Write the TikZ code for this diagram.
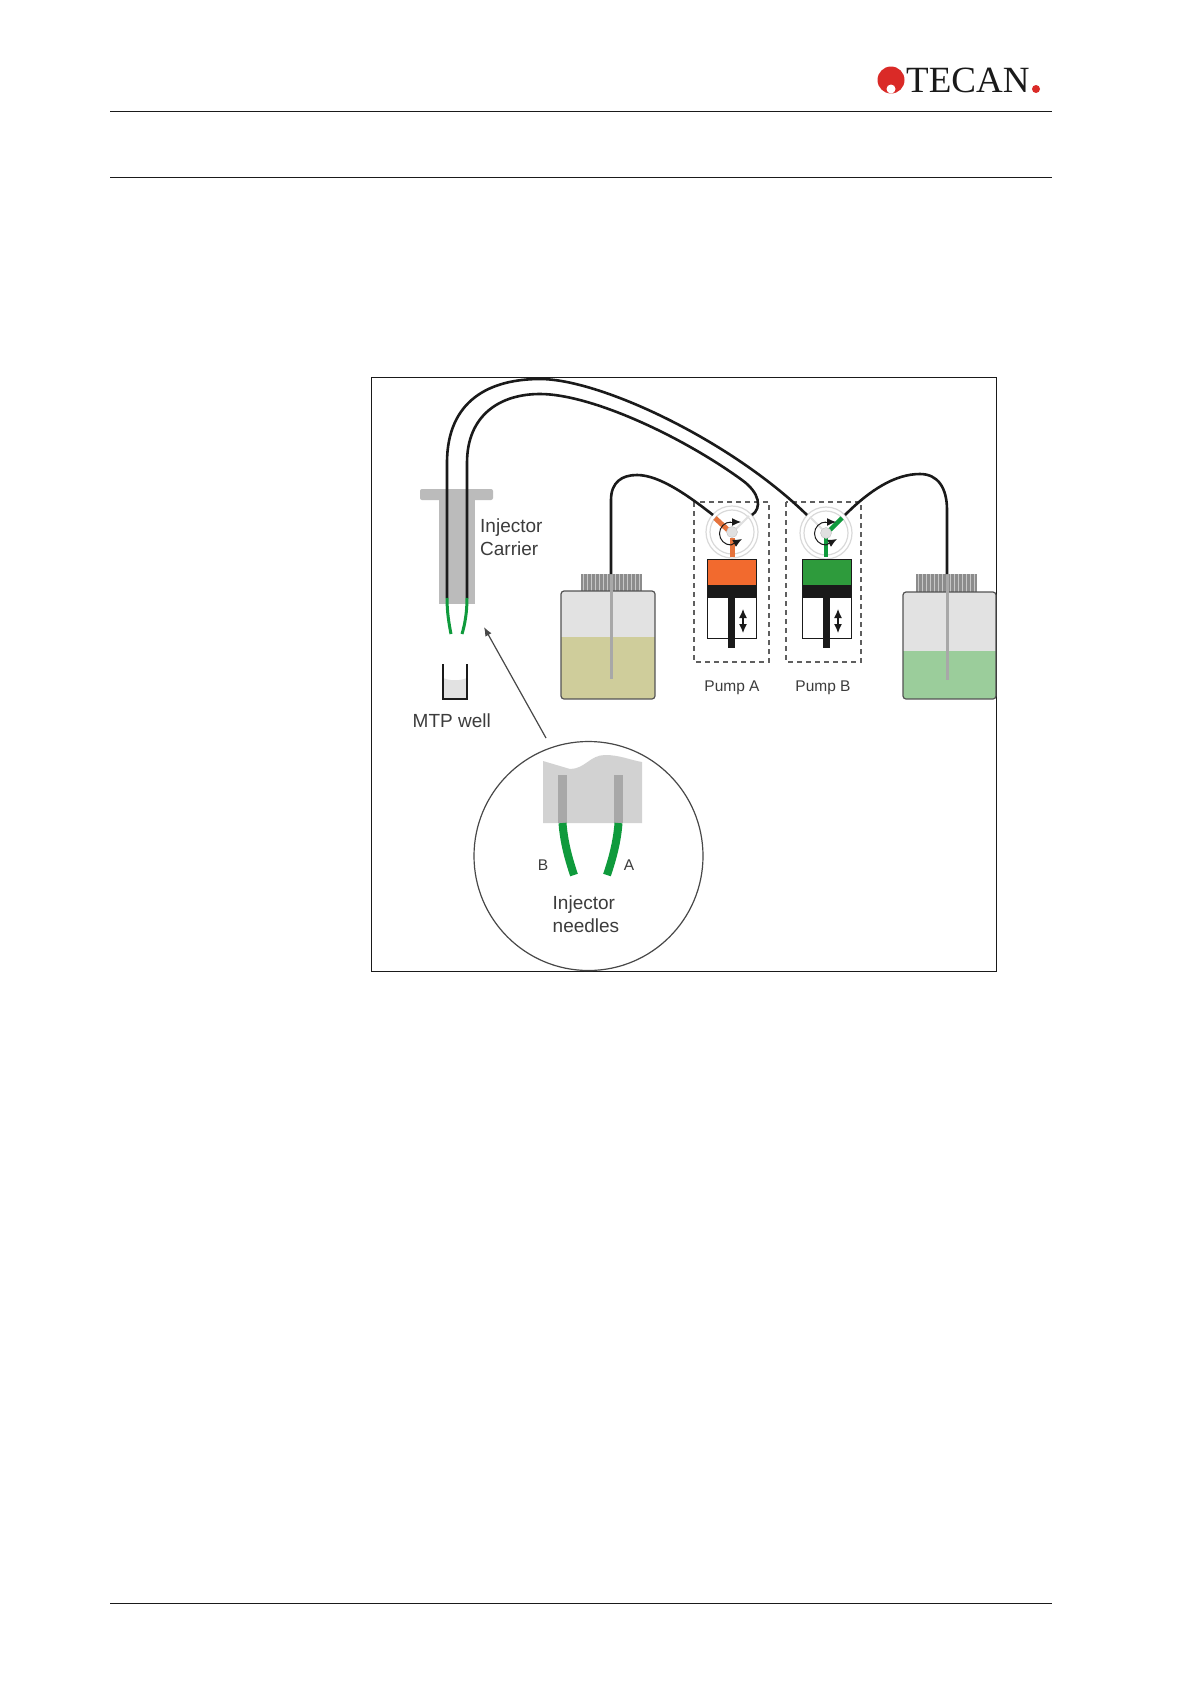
\documentclass[tikz,border=0pt]{standalone}
\usepackage{fontspec}
\setmainfont{Liberation Sans}
\newfontfamily\logofont{Liberation Serif}
\usepackage{xcolor}
\usepackage{tikz}
\usetikzlibrary{arrows.meta,calc,positioning}
\definecolor{ink}{HTML}{1A1A1A}
\definecolor{logored}{HTML}{DA2A27}
\definecolor{carriergrey}{HTML}{BBBBBB}
\definecolor{blockgrey}{HTML}{D2D2D2}
\definecolor{bargrey}{HTML}{A8A8A8}
\definecolor{airgrey}{HTML}{E2E2E2}
\definecolor{needlegreen}{HTML}{0F9A3C}
\definecolor{pumpgreen}{HTML}{2E9B3C}
\definecolor{pumporange}{HTML}{F26A2E}
\definecolor{spokeorange}{HTML}{E5733C}
\definecolor{liqa}{HTML}{CFCD9B}
\definecolor{liqb}{HTML}{9BCD9B}
\begin{document}
\begin{tikzpicture}[x=1pt,y=-1pt,
  rule/.style={draw=ink,line width=1pt},
  tube/.style={draw=ink,line width=2.6pt},
  lab/.style={font=\fontsize{19}{23}\selectfont,text=ink!85,inner sep=0pt,anchor=base west},
  smalllab/.style={font=\fontsize{15.5}{19}\selectfont,text=ink!85,inner sep=0pt,anchor=base},
  bottle/.style={draw=ink!75,line width=1.2pt,rounded corners=3pt},
  rod/.style={draw=bargrey,line width=3pt},
  cyl/.style={draw=ink,line width=1pt,fill=white},
  guard/.style={draw=ink!70,line width=1.2pt,dash pattern=on 5pt off 4pt},
  ringv/.style={circle,draw=black!15,line width=1.2pt,fill=white,minimum size=52pt,inner sep=0pt},
  hubv/.style={circle,draw=black!25,fill=black!12,minimum size=11pt,inner sep=0pt},
  mini/.style={{Latex[length=9pt,width=8pt]}-{Latex[length=9pt,width=8pt]},line width=1.2pt,ink},
  turn/.style={-{Latex[length=9pt,width=8pt]},line width=1pt,ink}
]
\useasboundingbox (0,0) rectangle (1190,1684);
\fill[white] (0,0) rectangle (1190,1684);
% page rules
\coordinate (r1a) at (110,111); \coordinate (r1b) at (1052,111);
\coordinate (r2a) at (110,177); \coordinate (r2b) at (1052,177);
\coordinate (r3a) at (110,1603); \coordinate (r3b) at (1052,1603);
\draw[rule] (r1a)--(r1b);
\draw[rule] (r2a)--(r2b);
\draw[rule] (r3a)--(r3b);
% logo
\fill[logored] (891,80) circle (13.5);
\fill[white] (891,89) circle (4.5);
\node[font=\logofont\fontsize{37}{37}\selectfont,text=ink,inner sep=0pt,anchor=base west] (logo) at (906,92) {TECAN};
\fill[logored] (1036,89) circle (4);
% frame
\draw[ink,line width=1pt] (371,377) rectangle (996,971);
% injector carrier
\fill[carriergrey] (439,500) rectangle (475,604);
\fill[carriergrey,rounded corners=2pt] (420,489) rectangle (493,500);
% bottles
\fill[black!45] (581,574) rectangle (642,591);
\foreach \x in {583,587,...,640}{\draw[black!22,line width=1pt] (\x,574)--(\x,591);}
\fill[black!45] (916,574) rectangle (977,592);
\foreach \x in {918,922,...,975}{\draw[black!22,line width=1pt] (\x,574)--(\x,592);}
\begin{scope}
\clip[rounded corners=3pt] (561,591) rectangle (655,699);
\fill[airgrey] (561,591) rectangle (655,637);
\fill[liqa] (561,637) rectangle (655,699);
\end{scope}
\draw[bottle] (561,591) rectangle (655,699);
\begin{scope}
\clip[rounded corners=3pt] (903,592) rectangle (996,699);
\fill[airgrey] (903,592) rectangle (996,651);
\fill[liqb] (903,651) rectangle (996,699);
\end{scope}
\draw[bottle] (903,592) rectangle (996,699);
\draw[rod] (611,574)--(611,679);
\draw[rod] (947,574)--(947,680);
% pump guards
\draw[guard] (694,502) rectangle (769,662);
\draw[guard] (786,502) rectangle (861,662);
% valves
\node[ringv] (valvea) at (732,532) {};
\node[circle,draw=black!15,line width=1.2pt,minimum size=44pt,inner sep=0pt] at (valvea) {};
\node[ringv] (valveb) at (826,533) {};
\node[circle,draw=black!15,line width=1.2pt,minimum size=44pt,inner sep=0pt] at (valveb) {};
% cylinders
\foreach \x/\colr in {707/pumporange,802/pumpgreen}{
  \draw[cyl] (\x,559) rectangle ++(49,79);
  \fill[\colr] (\x,559) rectangle ++(49,26);
  \draw[ink,line width=.6pt] (\x,559) rectangle ++(49,26);
  \fill[ink] (\x,585) rectangle ++(49,13);
  \fill[ink] (\x+21,598) rectangle ++(7,50);
  \draw[mini] (\x+36,609)--(\x+36,633);
}
% valve spokes
\draw[draw=spokeorange,line width=5pt] (715,518)--(728,530);
\draw[draw=spokeorange,line width=5pt] (732,538)--(732,557);
\draw[draw=black!12,line width=2pt] (736,529)--(749,516);
\draw[draw=needlegreen,line width=4.5pt] (830,530)--(842,518);
\draw[draw=needlegreen,line width=4.5pt] (826,538)--(826,557);
\draw[draw=black!12,line width=2pt] (822,529)--(810,517);
\node[hubv] (huba) at (valvea) {};
\node[hubv] (hubb) at (valveb) {};
\foreach \x in {0,95}{
  \draw[ink,line width=1pt] (731+\x,522) arc[start angle=-90,delta angle=-180,radius=11.5];
  \draw[turn] (729+\x,522)--(741+\x,522);
  \draw[turn] (731+\x,545)--(742+\x,539);
}
% tubes
\draw[tube] (447,598)--(447,463) .. controls (447,400) and (490,379) .. (540,379) .. controls (600,379) and (730,440) .. (807,515);
\draw[tube] (467,598)--(467,463) .. controls (467,415) and (500,394) .. (540,394) .. controls (590,394) and (680,435) .. (742,480) .. controls (760,493) and (762,508) .. (752,515);
\draw[tube] (611,574)--(611,500) .. controls (611,482) and (622,475) .. (637,475) .. controls (660,475) and (690,497) .. (713,515);
\draw[tube] (947,574)--(947,510) .. controls (947,488) and (938,474) .. (920,474) .. controls (895,474) and (870,490) .. (845,515);
% needles of carrier
\draw[draw=needlegreen,line width=3pt] (447,598) .. controls (447,612) and (449,624) .. (451,634);
\draw[draw=needlegreen,line width=3pt] (467,598) .. controls (467,612) and (465,624) .. (462,634);
% well
\fill[airgrey] (443,678) .. controls (450,681) and (460,681) .. (467,678) -- (467,699) -- (443,699) -- cycle;
\draw[ink,line width=1.6pt] (443,664)--(443,699)--(467,699)--(467,664);
% labels
\node[lab] (carrierlab) at (480,532) {Injector};
\node[lab] (carrierlabb) at (480,555.5) {Carrier};
\node[lab] (welllab) at (412.5,727) {MTP well};
\node[smalllab] (pumpa) at (732,691) {Pump A};
\node[smalllab] (pumpb) at (823,691) {Pump B};
% detail
\node[circle,draw=ink!80,line width=1.2pt,minimum size=229pt,inner sep=0pt] (detail) at (588.5,856) {};
\coordinate (tip) at (484,627);
\draw[-{Latex[length=9pt,width=7pt]},ink!80,line width=1.2pt] (546,738)--(tip);
\fill[blockgrey] (543,761) -- (570,769) .. controls (585,769) and (590,755) .. (605,755) .. controls (620,755) and (630,760) .. (642,762) -- (642,823) -- (543,823) -- cycle;
\fill[bargrey] (558,775) rectangle (567,823);
\fill[bargrey] (614,775) rectangle (623,823);
\draw[draw=needlegreen,line width=8pt] (562.5,823) .. controls (564,843) and (569,860) .. (574,875);
\draw[draw=needlegreen,line width=8pt] (618.5,823) .. controls (617,843) and (612,860) .. (607,875);
\node[smalllab] (labb) at (543,870) {B};
\node[smalllab] (laba) at (629,870) {A};
\node[lab] (needlea) at (552.5,909) {Injector};
\node[lab] (needleb) at (552.5,932) {needles};
\end{tikzpicture}
\end{document}
